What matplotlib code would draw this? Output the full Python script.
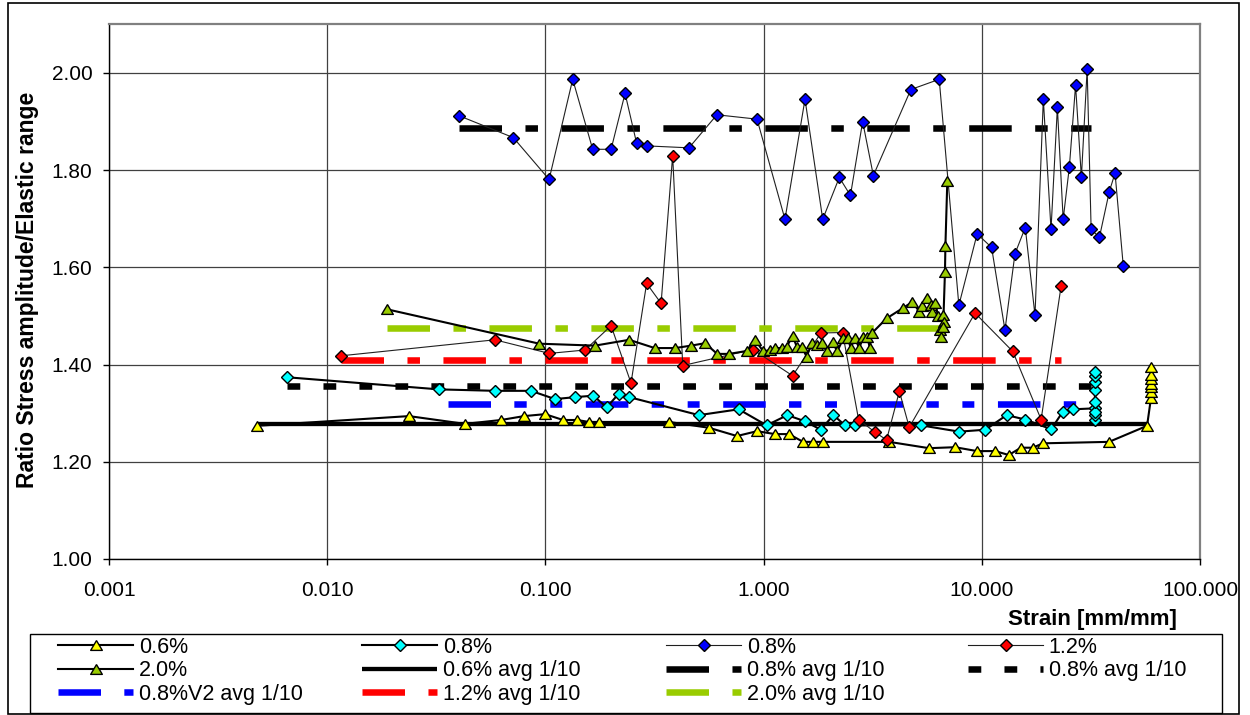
import matplotlib.pyplot as plt
from matplotlib.patches import Rectangle
from matplotlib.ticker import NullLocator

plt.rcParams['font.family'] = ['Liberation Sans', 'DejaVu Sans']
plt.rcParams['lines.scale_dashes'] = False

# 0.6% amplitude test (yellow triangles)
strain_06 = [0.00476, 0.0237, 0.0428, 0.0626, 0.0798, 0.0996, 0.1205, 0.1397, 0.158, 0.176,
             0.368, 0.562, 0.755, 0.933, 1.127, 1.306, 1.517, 1.686, 1.872, 3.76,
             5.73, 7.54, 9.51, 11.5, 13.3, 15.1, 17.1, 19.1, 38.3, 57.2,
             59.6, 59.6, 59.6, 59.6, 59.6, 59.6, 59.6]
ratio_06 = [1.274, 1.294, 1.278, 1.286, 1.294, 1.298, 1.286, 1.286, 1.282, 1.282,
            1.282, 1.270, 1.253, 1.263, 1.257, 1.257, 1.241, 1.241, 1.241, 1.241,
            1.228, 1.230, 1.222, 1.222, 1.214, 1.229, 1.229, 1.238, 1.241, 1.274,
            1.331, 1.344, 1.353, 1.361, 1.370, 1.379, 1.396]

# 0.8% amplitude test (cyan diamonds)
strain_08a = [0.00652, 0.0325, 0.0587, 0.0859, 0.1107, 0.1367, 0.1657, 0.191, 0.2167, 0.2423,
              0.5054, 0.769, 1.033, 1.285, 1.553, 1.829, 2.088, 2.362, 2.625, 5.26,
              7.88, 10.38, 13.0, 15.8, 20.8, 23.5, 26.3,
              33.0, 33.0, 33.0, 33.0, 33.0, 33.0, 33.0, 33.0, 33.0]
ratio_08a = [1.374, 1.349, 1.346, 1.346, 1.329, 1.333, 1.336, 1.312, 1.340, 1.333,
             1.296, 1.308, 1.275, 1.296, 1.283, 1.266, 1.296, 1.275, 1.275, 1.275,
             1.262, 1.266, 1.296, 1.287, 1.267, 1.303, 1.308,
             1.310, 1.286, 1.296, 1.303, 1.322, 1.348, 1.365, 1.377, 1.385]

# 0.8% amplitude test, second specimen (blue diamonds)
strain_08b = [0.0402, 0.0713, 0.104, 0.1334, 0.1647, 0.200, 0.2318, 0.262, 0.291, 0.455,
              0.611, 0.933, 1.253, 1.548, 1.866, 2.223, 2.50, 2.844, 3.184, 4.73,
              6.38, 7.85, 9.52, 11.09, 12.77, 14.19, 15.82, 17.53, 19.14, 20.76,
              22.2, 23.6, 25.2, 26.9, 28.6, 30.4, 31.7, 34.6, 38.4, 40.8, 44.5]
ratio_08b = [1.912, 1.867, 1.781, 1.987, 1.843, 1.843, 1.958, 1.855, 1.850, 1.846,
             1.914, 1.905, 1.699, 1.946, 1.699, 1.785, 1.748, 1.900, 1.789, 1.966,
             1.987, 1.522, 1.669, 1.641, 1.471, 1.628, 1.682, 1.501, 1.946, 1.678,
             1.929, 1.699, 1.807, 1.975, 1.785, 2.008, 1.678, 1.662, 1.756, 1.794, 1.603]

# 1.2% amplitude test (red diamonds)
strain_12 = [0.01153, 0.0587, 0.1042, 0.152, 0.200, 0.2468, 0.291, 0.339, 0.383, 0.426,
             0.893, 1.358, 1.831, 2.30, 2.725, 3.237, 3.66, 4.19, 4.65, 9.31,
             13.87, 18.7, 23.1]
ratio_12 = [1.418, 1.451, 1.423, 1.430, 1.480, 1.362, 1.567, 1.526, 1.830, 1.398,
            1.431, 1.377, 1.465, 1.466, 1.287, 1.261, 1.245, 1.345, 1.271, 1.506,
            1.427, 1.287, 1.562]

# 2.0% amplitude test (green triangles)
strain_20 = [0.0187, 0.0937, 0.1687, 0.242, 0.317, 0.393, 0.465, 0.539, 0.613, 0.694,
             0.837, 0.914, 0.997, 1.07, 1.127, 1.21, 1.276, 1.36, 1.418, 1.495,
             1.575, 1.66, 1.75, 1.845, 1.945, 2.07, 2.175, 2.32, 2.44, 2.505,
             2.62, 2.745, 2.86, 2.985, 3.07, 3.125, 3.66, 4.34, 4.81, 5.17,
             5.32, 5.59, 5.83, 5.91, 6.10, 6.31, 6.61, 6.70, 6.43, 6.50,
             6.65, 6.78, 6.81, 6.95]
ratio_20 = [1.514, 1.443, 1.439, 1.451, 1.434, 1.434, 1.439, 1.444, 1.422, 1.422,
            1.428, 1.451, 1.427, 1.430, 1.434, 1.434, 1.437, 1.459, 1.437, 1.437,
            1.416, 1.444, 1.440, 1.444, 1.427, 1.447, 1.427, 1.454, 1.454, 1.434,
            1.454, 1.434, 1.457, 1.457, 1.434, 1.464, 1.495, 1.516, 1.529, 1.509,
            1.521, 1.537, 1.523, 1.508, 1.526, 1.499, 1.502, 1.488, 1.471, 1.457,
            1.477, 1.591, 1.643, 1.778]

# averages over the first tenth of each test
avg06_x, avg06_y = [0.00476, 57.2], [1.278, 1.278]
avg08_x, avg08_y = [0.0402, 31.7], [1.886, 1.886]
avg08s_x, avg08s_y = [0.00652, 33.0], [1.355, 1.355]
avg08v2_x, avg08v2_y = [0.0356, 33.0], [1.318, 1.318]
avg12_x, avg12_y = [0.01153, 23.1], [1.409, 1.409]
avg20_x, avg20_y = [0.0187, 6.95], [1.475, 1.475]

x_ticks = [0.001, 0.01, 0.1, 1, 10, 100]
x_tick_labels = ['0.001', '0.010', '0.100', '1.000', '10.000', '100.000']
y_ticks = [1.0, 1.2, 1.4, 1.6, 1.8, 2.0]

tri = [(0, 0.84), (-1, -0.84), (1, -0.84), (0, 0.84)]
long_dot = (0, (30.6, 16.9, 9.0, 16.9))
long_dot_dot = (0, (30.6, 16.8, 8.9, 17.0, 8.6, 17.0))
short_dash = (0, (9.2, 16.7))

fig = plt.figure(figsize=(12.5, 7.15), dpi=100)
ax = fig.add_axes([0.0872, 0.2182, 0.8728, 0.7477])

# average lines underneath the measured series
l_avg06, = ax.plot(avg06_x, avg06_y, color='black', lw=3.1, solid_capstyle='butt', zorder=2)
l_avg08, = ax.plot(avg08_x, avg08_y, color='black', lw=4.7, ls=long_dot, zorder=2)
l_avg08s, = ax.plot(avg08s_x, avg08s_y, color='black', lw=4.7, ls=short_dash, zorder=2)
l_avg08v2, = ax.plot(avg08v2_x, avg08v2_y, color='#0000FF', lw=4.7, ls=long_dot_dot, zorder=2)
l_avg12, = ax.plot(avg12_x, avg12_y, color='#FF0000', lw=4.7, ls=long_dot, zorder=2)
l_avg20, = ax.plot(avg20_x, avg20_y, color='#99CC00', lw=4.7, ls=long_dot, zorder=2)

l06, = ax.plot(strain_06, ratio_06, color='black', lw=1.5, marker=tri, ms=8.4,
               mfc='#FFFF00', mec='black', mew=1.0, zorder=3)
l08a, = ax.plot(strain_08a, ratio_08a, color='black', lw=1.5, marker='D', ms=5.8,
                mfc='#00FFFF', mec='black', mew=1.0, zorder=3)
l08b, = ax.plot(strain_08b, ratio_08b, color='#202020', lw=0.8, marker='D', ms=5.8,
                mfc='#0000FF', mec='black', mew=1.0, zorder=3)
l12, = ax.plot(strain_12, ratio_12, color='#202020', lw=0.8, marker='D', ms=5.8,
               mfc='#FF0000', mec='black', mew=1.0, zorder=3)
l20, = ax.plot(strain_20, ratio_20, color='black', lw=1.5, marker=tri, ms=8.4,
               mfc='#99CC00', mec='black', mew=1.0, zorder=3)

ax.set_xscale('log')
ax.set_xlim(0.001, 100)
ax.set_ylim(1.0, 2.1)
ax.set_xticks(x_ticks)
ax.set_xticklabels(x_tick_labels)
ax.xaxis.set_minor_locator(NullLocator())
ax.set_yticks(y_ticks)
ax.set_yticklabels(['%.2f' % v for v in y_ticks])
ax.tick_params(axis='both', direction='out', length=4, width=1, labelsize=15)
ax.tick_params(axis='x', pad=12)
ax.tick_params(axis='y', pad=8)
ax.grid(True, which='major', color='#404040', lw=0.9, zorder=0)
ax.set_axisbelow(True)
for side in ['top', 'right']:
    ax.spines[side].set_color('#808080')
    ax.spines[side].set_linewidth(1.6)
for side in ['left', 'bottom']:
    ax.spines[side].set_color('black')
    ax.spines[side].set_linewidth(1.0)

fig.text(0.0224, 0.5944, 'Ratio Stress amplitude/Elastic range', rotation=90,
         ha='center', va='center', fontsize=16.5, fontweight='bold')
fig.text(0.9416, 0.1329, 'Strain [mm/mm]', ha='right', va='center',
         fontsize=16, fontweight='bold')

# legend box with four columns filled row by row
fig.patches.append(Rectangle((0.024, 0.0028), 0.9536, 0.1105, transform=fig.transFigure,
                             fill=False, edgecolor='black', lw=1.0))
columns = [
    ([l06, l20, l_avg08v2], ['0.6%', '2.0%', '0.8%V2 avg 1/10']),
    ([l08a, l_avg06, l_avg12], ['0.8%', '0.6% avg 1/10', '1.2% avg 1/10']),
    ([l08b, l_avg08, l_avg20], ['0.8%', '0.8% avg 1/10', '2.0% avg 1/10']),
    ([l12, l_avg08s], ['1.2%', '0.8% avg 1/10']),
]
col_x = [0.0464, 0.2896, 0.5328, 0.7744]
for (hs, ls), x0 in zip(columns, col_x):
    fig.legend(hs, ls, loc='upper left', bbox_to_anchor=(x0, 0.1091),
               fontsize=15.5, numpoints=1, handlelength=3.5, handletextpad=0.25,
               labelspacing=0.11, borderaxespad=0, borderpad=0, frameon=False)

fig.patches.append(Rectangle((0.0064, 0.0014), 0.985, 0.9944, transform=fig.transFigure,
                             fill=False, edgecolor='black', lw=1.2))

fig.savefig('out.png', dpi=100)
